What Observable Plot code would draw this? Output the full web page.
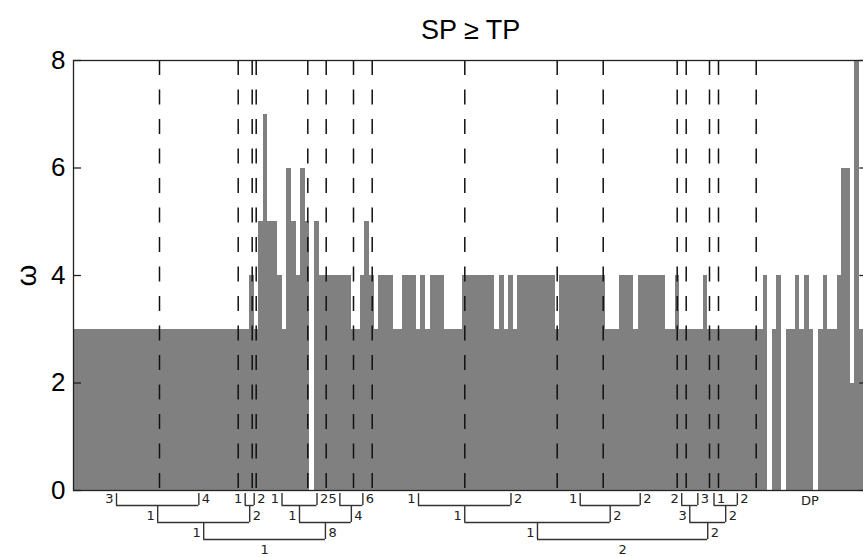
<!DOCTYPE html>
<html><head><meta charset="utf-8">
<script src="https://cdn.jsdelivr.net/npm/d3@7"></script>
<script src="https://cdn.jsdelivr.net/npm/@observablehq/plot@0.6"></script>
<style>
html,body{margin:0;padding:0;background:#fff;overflow:hidden;width:863px;height:557px;}
#chart{position:relative;width:871px;}
svg{display:block;}
</style></head><body><div id="chart"></div>
<script>
// ---- data ----
const title = "SP \u2265 TP";
const yLabel = "\u03c9";
const yTicks = [0, 2, 4, 6, 8];
// alignment position where each run of equal omega begins, and its omega value
const runStart = [0, 176, 181, 185.3, 189.7, 194.3, 203.7, 208.7, 213, 218, 222.7, 227, 232, 236.3, 241, 246,
  278, 287, 291.3, 296.3, 301, 305.3, 319.5, 328.7, 342.7, 347, 352, 356.5, 370.5, 388.7,
  421.3, 426, 430.5, 435, 439.7, 444.3, 481.5, 486, 532.3, 546.3, 560.3, 564.5, 592, 601.5, 606.2,
  629.5, 634, 689.5, 694.3, 698.7, 703.3, 708, 712.5, 721.7, 726.3, 731, 735.5, 740.3, 744.5,
  749.5, 754, 763.5, 768, 777, 781.3, 785.5];
const runOmega = [3, 4, 3, 5, 7, 5, 4, 3, 6, 5, 4, 6, 5, 0, 5, 4,
  3, 4, 5, 4, 3, 4, 3, 4, 3, 4, 3, 4, 3, 4,
  3, 4, 3, 4, 3, 4, 3, 4, 3, 4, 3, 4, 3, 4, 3,
  4, 3, 4, 0, 3, 4, 0, 3, 4, 3, 4, 3, 0, 3,
  4, 3, 4, 6, 2, 8, 3];
const dataEnd = 790;
const axisEnd = 794.3;
// partition boundaries (dashed lines)
const partitionBreaks = [86, 164.7, 178.7, 182.7, 234.3, 252.7, 280, 298.7, 391.3, 483.7, 529.7, 603.7, 612.7, 636, 645, 682.7];
// tree joining the partitions: children and the label on each branch
const treeNodes = [
  {id: "a", kids: ["L0", "L1"], labels: ["3", "4"]},
  {id: "b", kids: ["L2", "L3"], labels: ["1", "2"]},
  {id: "c", kids: ["L4", "L5"], labels: ["1", "2"]},
  {id: "d", kids: ["L6", "L7"], labels: ["5", "6"]},
  {id: "ab", kids: ["a", "b"], labels: ["1", "2"]},
  {id: "cd", kids: ["c", "d"], labels: ["1", "4"]},
  {id: "left", kids: ["ab", "cd"], labels: ["1", "8"], root: "1"},
  {id: "e", kids: ["L8", "L9"], labels: ["1", "2"]},
  {id: "f", kids: ["L10", "L11"], labels: ["1", "2"]},
  {id: "g", kids: ["L12", "L13"], labels: ["2", "3"]},
  {id: "h", kids: ["L14", "L15"], labels: ["1", "2"], leftInside: true},
  {id: "ef", kids: ["e", "f"], labels: ["1", "2"]},
  {id: "gh", kids: ["g", "h"], labels: ["3", "2"]},
  {id: "right", kids: ["ef", "gh"], labels: ["1", "2"], root: "2"}
];
const dpLabel = "DP";

// ---- build ----
const runs = runStart.map((s, i) => ({x1: s, x2: i + 1 < runStart.length ? runStart[i + 1] : dataEnd, omega: runOmega[i]}));
const bounds = [0, ...partitionBreaks];
const pos = {}, lev = {};
for (let i = 0; i < partitionBreaks.length; i++) {
  pos["L" + i] = (bounds[i] + bounds[i + 1]) / 2; lev["L" + i] = 0;
}
const leafTop = 0.3;
const legs = [], bars = [], labL = [], labR = [], roots = [];
for (const n of treeNodes) {
  const [k1, k2] = n.kids;
  const L = 1 + Math.max(lev[k1], lev[k2]);
  lev[n.id] = L; pos[n.id] = (pos[k1] + pos[k2]) / 2;
  bars.push({x1: pos[k1], x2: pos[k2], y: L});
  for (const k of n.kids) legs.push({x: pos[k], y1: lev[k] === 0 ? leafTop : lev[k], y2: L});
  (n.leftInside ? labR : labL).push({x: pos[k1], y: L - 0.38, t: n.labels[0]});
  labR.push({x: pos[k2], y: L - 0.38, t: n.labels[1]});
  if (n.root) roots.push({x: pos[n.id], y: L + 0.62, t: n.root});
}

const W = 871, ML = 73, MR = 3.7;
const plotW = W - ML - MR;
const ink = "#222";

const main = Plot.plot({
  width: W, height: 492,
  marginTop: 60, marginBottom: 2, marginLeft: ML, marginRight: MR,
  x: {domain: [0, axisEnd], axis: null},
  y: {domain: [0, 8]},
  style: {fontFamily: "'Liberation Sans', Arial, sans-serif", background: "white", maxWidth: "none", color: "#000", overflow: "visible", position: "relative", zIndex: 2},
  marks: [
    Plot.rect(runs, {x1: "x1", x2: "x2", y1: 0, y2: "omega", fill: "#808080", shapeRendering: "crispEdges"}),
    Plot.ruleX(partitionBreaks, {x: d => d, y1: 8, y2: 0, stroke: "#111", strokeWidth: 1.5, strokeDasharray: "15,14.5"}),
    Plot.frame({stroke: ink, strokeWidth: 1.3}),
    Plot.tickY(yTicks, {y: d => d, insetRight: plotW - 8, stroke: ink, strokeWidth: 1.3}),
    Plot.tickY(yTicks, {y: d => d, insetLeft: plotW - 8, stroke: ink, strokeWidth: 1.3}),
    Plot.axisY({ticks: yTicks, tickSize: 0, tickPadding: 8, fontSize: 26, label: null, tickFormat: d => String(d)}),
    Plot.text([title], {frameAnchor: "top", dy: -30, fontSize: 27, fill: "#000", lineAnchor: "middle", textAnchor: "middle"}),
    Plot.text([yLabel], {frameAnchor: "left", dx: -46, rotate: -90, fontSize: 28, fill: "#000", lineAnchor: "middle", textAnchor: "middle"})
  ]
});

const treeStroke = "#333";
const dendro = Plot.plot({
  width: W, height: 65,
  marginTop: 0, marginBottom: 0, marginLeft: ML, marginRight: MR,
  x: {domain: [0, axisEnd], axis: null},
  y: {domain: [0, 1], range: [-4, 13], axis: null},
  style: {fontFamily: "'DejaVu Sans', sans-serif", background: "transparent", maxWidth: "none", overflow: "visible", position: "relative", zIndex: 1},
  marks: [
    Plot.ruleX(legs, {x: "x", y1: "y1", y2: "y2", stroke: treeStroke, strokeWidth: 1.4}),
    Plot.ruleY(bars, {y: "y", x1: "x1", x2: "x2", stroke: treeStroke, strokeWidth: 1.4}),
    Plot.text(labL, {x: "x", y: "y", text: "t", textAnchor: "end", dx: -3, fontSize: 13, fill: ink}),
    Plot.text(labR, {x: "x", y: "y", text: "t", textAnchor: "start", dx: 3, fontSize: 13, fill: ink}),
    Plot.text(roots, {x: "x", y: "y", text: "t", fontSize: 13, fill: ink}),
    Plot.text([dpLabel], {x: () => (partitionBreaks[partitionBreaks.length - 1] + dataEnd) / 2, y: 0.7, text: d => d, fontSize: 13, fill: ink})
  ]
});

const host = document.getElementById("chart");
host.appendChild(main);
host.appendChild(dendro);
</script>
</body></html>
